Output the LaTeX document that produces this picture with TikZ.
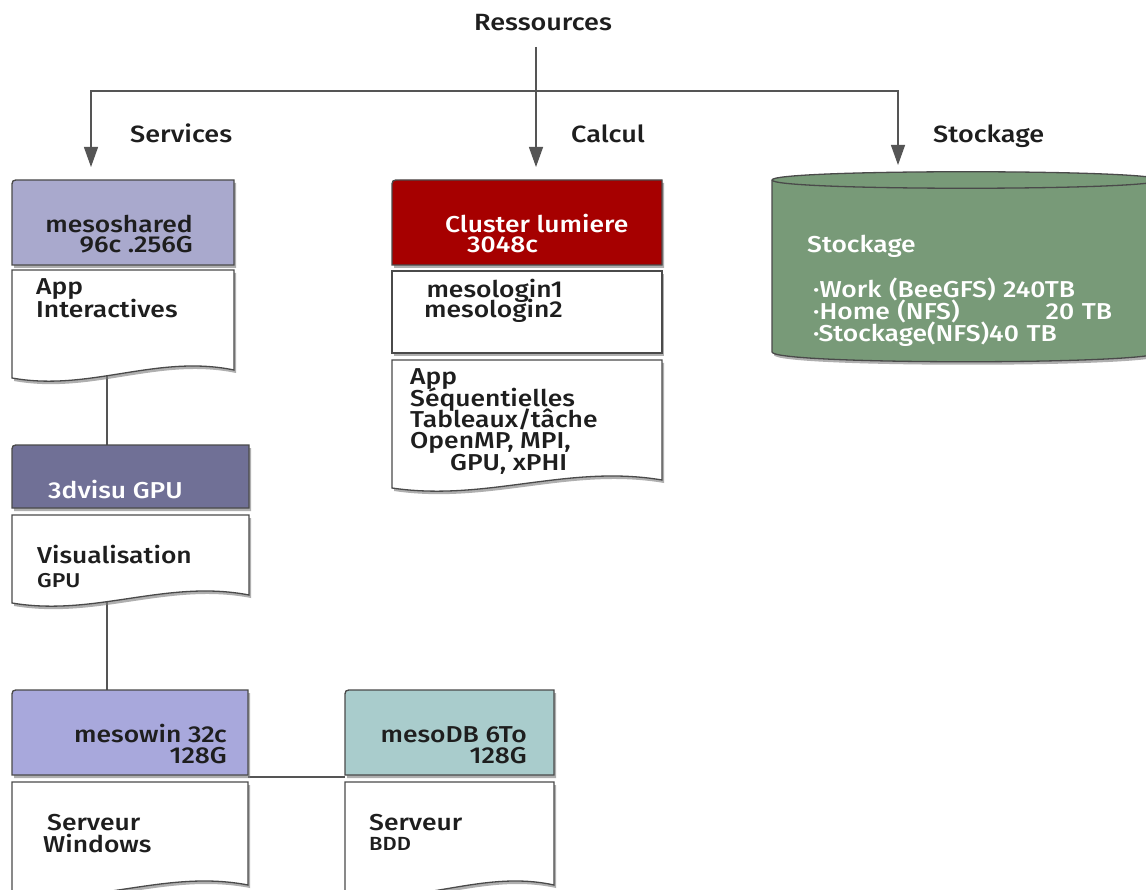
\documentclass[tikz,border=0pt]{standalone}
\usepackage{fontspec}
\setmainfont{Fira Sans Medium}[FakeStretch=1.15]
\usetikzlibrary{arrows.meta}
\definecolor{bordc}{HTML}{4A4A4A}
\definecolor{linec}{HTML}{555555}
\definecolor{sharedc}{HTML}{A9A9CD}
\definecolor{visuc}{HTML}{707096}
\definecolor{winc}{HTML}{A8A8DC}
\definecolor{dbc}{HTML}{A9CCCC}
\definecolor{clusc}{HTML}{A60000}
\definecolor{stoc}{HTML}{789A78}
\definecolor{shadc}{HTML}{7A7A7A}
\definecolor{txtc}{HTML}{1E1E1E}
\newcommand\fsz[2]{\fontsize{#1}{#2}\selectfont\lineskiplimit=-50pt\lineskip=0pt}
\tikzset{
 hdr/.style={draw=bordc, line width=1.3pt},
 docs/.style={draw=bordc, line width=1.3pt, fill=white},
 shad/.style={fill=shadc, opacity=0.6},
 conn/.style={draw=linec, line width=1.3pt},
 arr/.style={conn, -{Triangle[length=20pt,width=14pt]}},
 txt/.style={inner sep=0pt, font=\fsz{23}{22}, text=txtc},
 wtxt/.style={inner sep=0pt, font=\fsz{23}{22}, text=white},
 head/.style={inner sep=0pt, font=\fsz{23.5}{24}, text=txtc},
}
\newcommand\hdrbox[5]{%
 \fill[shad] (#1+2,#4+3) -- (#1+2,#2+11) .. controls (#1+2,#2+3) .. (#1+10,#2+3) -- (#3+2,#2+3) -- (#3+2,#4+3) -- cycle;
 \draw[hdr,fill=#5] (#1,#4) -- (#1,#2+8) .. controls (#1,#2) .. (#1+8,#2) -- (#3,#2) -- (#3,#4) -- cycle;}
\newcommand\docbox[4]{%
 \fill[shad] (#1+2,#2+3) -- (#3+2,#2+3) -- (#3+2,#4-5) .. controls ({#1+2+0.65*(#3-#1)},#4-21) and ({#1+2+0.35*(#3-#1)},#4+17) .. (#1+2,#4+3) -- cycle;
 \draw[docs] (#1,#2) -- (#3,#2) -- (#3,#4-8) .. controls ({#1+0.65*(#3-#1)},#4-24) and ({#1+0.35*(#3-#1)},#4+14) .. (#1,#4) -- cycle;}
\begin{document}
\begin{tikzpicture}[x=1pt,y=-1pt]
\useasboundingbox[fill=white] (0,0) rectangle (1146,890);

% ---- top tree
\node[head, anchor=base] (res) at (543,31) {Ressources};
\coordinate (resb) at (536,47);
\coordinate (jn) at (536,91);
\coordinate (svcT) at (91,167);
\coordinate (calT) at (536,167);
\coordinate (stoT) at (898,165);
\draw[arr] (resb) -- (calT);
\draw[arr] (jn) -| (svcT);
\draw[arr] (jn) -| (stoT);
\node[head, anchor=base west] (lsvc) at (130,143) {Services};
\node[head, anchor=base west] (lcal) at (571,143) {Calcul};
\node[head, anchor=base west] (lsto) at (933,143) {Stockage};

% ---- links between boxes
\coordinate (shB) at (107,372);
\coordinate (viT) at (107,446);
\coordinate (viB) at (107,592);
\coordinate (wiT) at (107,691);
\coordinate (wiR) at (248,777);
\coordinate (dbL) at (345,777);
\draw[conn] (shB) -- (viT);
\draw[conn] (viB) -- (wiT);
\draw[conn] (wiR) -- (dbL);

% ---- Services column
\hdrbox{12}{180}{234}{265}{sharedc}
\docbox{12}{270}{234}{378}
\node[txt, anchor=base east, align=right, font=\fsz{23}{20}] (shT) at (193,253) {mesoshared\\96c .256G};
\node[txt, anchor=base west, align=left, font=\fsz{23}{23}] (shD) at (36,318) {App\\Interactives};

\hdrbox{12}{445}{249}{508}{visuc}
\docbox{12}{515}{249}{603}
\node[wtxt, anchor=base west] (viT2) at (48,498) {3dvisu GPU};
\node[txt, anchor=base west] (viD1) at (37,563) {Visualisation};
\node[txt, anchor=base west, font=\fsz{20}{20}] (viD2) at (37,587) {GPU};

\hdrbox{12}{690}{248}{775}{winc}
\docbox{12}{782}{248}{893}
\node[txt, anchor=base east, align=right, font=\fsz{23}{21}] (wiT2) at (227,763) {mesowin 32c\\128G};
\node[txt, anchor=base west, align=left] (wiD) at (43,852) {\hspace*{4pt}Serveur\\Windows};

\hdrbox{345}{690}{554}{775}{dbc}
\docbox{345}{782}{554}{893}
\node[txt, anchor=base east, align=right, font=\fsz{23}{21}] (dbT) at (527,763) {mesoDB 6To\\128G};
\node[txt, anchor=base west] (dbD1) at (369,830) {Serveur};
\node[txt, anchor=base west, font=\fsz{19}{19}] (dbD2) at (369,850) {BDD};

% ---- Calcul column
\hdrbox{392}{180}{662}{265}{clusc}
\node[wtxt, anchor=base west, align=left, font=\fsz{23}{20}] (clT) at (445,253) {Cluster lumiere\\\hspace*{22pt}3048c};
\fill[shad] (394,274) rectangle (664,356);
\draw[docs] (392,271) rectangle (662,353);
\node[txt, anchor=base east, align=right, font=\fsz{23}{20}] (lgT) at (563,318) {mesologin1\\mesologin2};
\docbox{392}{360}{662}{488}
\node[txt, anchor=base west, align=left, font=\fsz{23}{21.3}] (apT) at (410,470) {App\\Séquentielles\\Tableaux/tâche\\OpenMP, MPI,\\\hspace*{40pt}GPU, xPHI};

% ---- Stockage cylinder
\fill[shad] (774,183) -- (774,355) .. controls (774,368) and (1162,368) .. (1162,355) -- (1162,183) -- cycle;
\draw[hdr, fill=stoc] (772,180) -- (772,352) .. controls (772,365) and (1160,365) .. (1160,352) -- (1160,180) .. controls (1160,169) and (772,169) .. (772,180) -- cycle;
\draw[hdr] (772,180) .. controls (772,191) and (1160,191) .. (1160,180);
\node[wtxt, anchor=base west] (stT) at (807,253) {Stockage};
\node[wtxt, anchor=base west, align=left, text width=299pt] (stD) at (813,298) {·Work (BeeGFS) 240TB\\·Home (NFS)\hfill 20 TB\\·Stockage(NFS)40 TB};
\end{tikzpicture}
\end{document}
